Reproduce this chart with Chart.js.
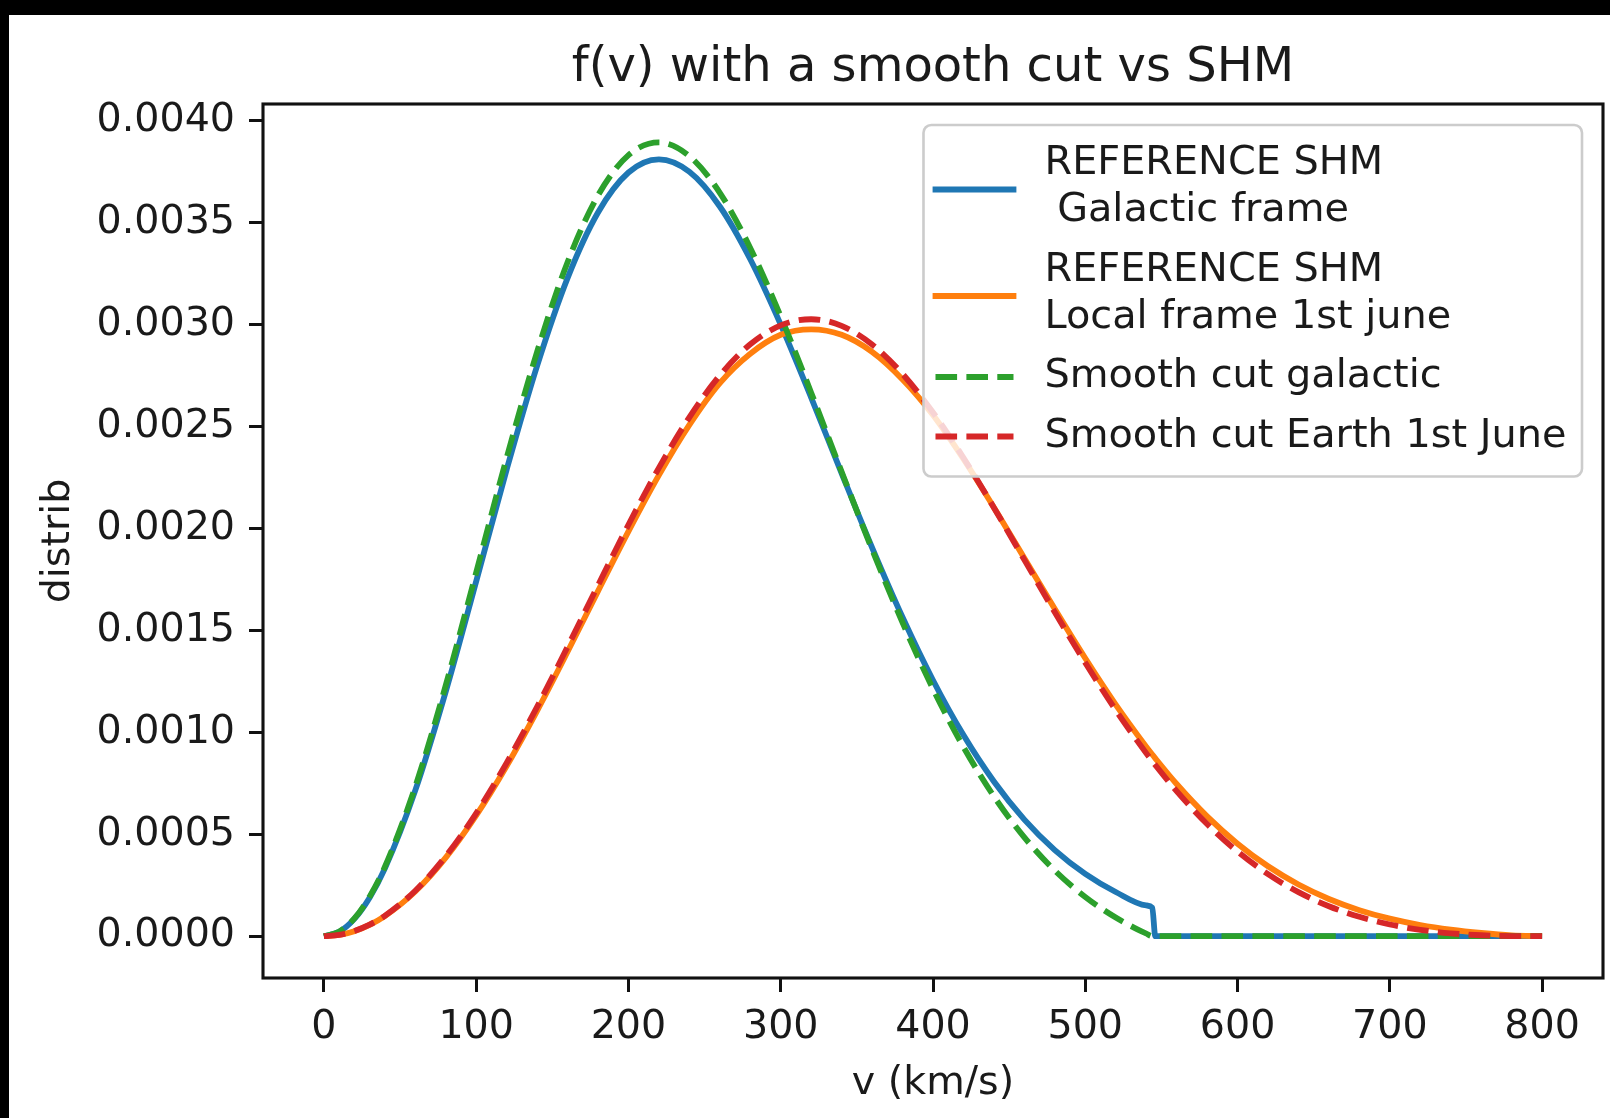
<!DOCTYPE html>
<html>
<head>
<meta charset="utf-8">
<script src="https://cdn.jsdelivr.net/npm/chart.js@4.4.1/dist/chart.umd.min.js"></script>
<style>
html,body{margin:0;padding:0;background:#000;width:1610px;height:1118px;overflow:hidden}
#wrap{position:absolute;left:9px;top:15px;width:1601px;height:1103px;background:#fff}
canvas{display:block}
</style>
</head>
<body>
<div id="wrap"><canvas id="c" width="1601" height="1103"></canvas></div>
<script>
// ---- data ----
const velocities = [0,10,20,30,40,60,80,100,120,140,160,180,200,220,240,260,280,300,320,340,360,380,400,420,440,460,480,500,520,540,544,546,560,580,600,620,640,660,680,700,720,740,760,780,800];

const shmGalactic = [0,0.0000214,0.0000849,0.0001890,0.0003313,0.0007151,0.0011999,0.0017405,0.0022885,0.0027977,0.0032281,0.0035498,0.0037458,0.0038103,0.0037495,0.0035792,0.0033206,0.0029999,0.0026418,0.0022704,0.0019064,0.0015645,0.0012556,0.0009864,0.0007588,0.0005717,0.0004224,0.0003056,0.0002168,0.0001509,0.0001400,0,0,0,0,0,0,0,0,0,0,0,0,0,0];

const shmLocalJune = [0,0.0000062,0.0000247,0.0000554,0.0000982,0.0002192,0.0003852,0.0005923,0.0008349,0.0011056,0.0013952,0.0016926,0.0019858,0.0022617,0.0025079,0.0027128,0.0028570,0.0029500,0.0029770,0.0029500,0.0028660,0.0027310,0.0025563,0.0023407,0.0021031,0.0018543,0.0016047,0.0013631,0.0011364,0.0009298,0.0008912,0.0008723,0.0007465,0.0005879,0.0004539,0.0003430,0.0002536,0.0001827,0.0001278,0.0000861,0.0000549,0.0000321,0.0000157,0.0000040,0];

const smoothCutGalactic = [0,0.0000219,0.0000871,0.0001939,0.0003398,0.0007334,0.0012304,0.0017844,0.0023457,0.0028664,0.0033060,0.0036336,0.0038313,0.0038935,0.0038265,0.0036465,0.0033756,0.0030401,0.0026660,0.0022778,0.0018968,0.0015382,0.0012129,0.0009282,0.0006859,0.0004848,0.0003221,0.0001926,0.0000914,0.0000133,0,0,0,0,0,0,0,0,0,0,0,0,0,0,0];

const smoothCutEarthJune = [0,0.0000063,0.0000251,0.0000564,0.0001000,0.0002232,0.0003921,0.0006029,0.0008497,0.0011249,0.0014191,0.0017210,0.0020181,0.0022972,0.0025453,0.0027506,0.0029032,0.0029961,0.0030263,0.0029940,0.0029025,0.0027579,0.0025690,0.0023466,0.0021017,0.0018458,0.0015894,0.0013415,0.0011093,0.0008982,0.0008589,0.0008396,0.0007115,0.0005505,0.0004153,0.0003044,0.0002159,0.0001471,0.0000953,0.0000576,0.0000314,0.0000143,0.0000046,0.0000004,0];

const seriesLabels = ["REFERENCE SHM\n Galactic frame","REFERENCE SHM\nLocal frame 1st june","Smooth cut galactic","Smooth cut Earth 1st June"];
const xTicks = [0,100,200,300,400,500,600,700,800];
const yTicks = [0,0.0005,0.0010,0.0015,0.0020,0.0025,0.0030,0.0035,0.0040];
const chartTitle = "f(v) with a smooth cut vs SHM";
const xLabel = "v (km/s)";
const yLabel = "distrib";

// ---- styling ----
const FONT = "'DejaVu Sans', 'Liberation Sans', sans-serif";
const TXT = '#1a1a1a';
Chart.defaults.font.family = FONT;
Chart.defaults.color = TXT;

const seriesStyles = [
  {color:'#1f77b4', dash:[]},
  {color:'#ff7f0e', dash:[]},
  {color:'#2ca02c', dash:[21.6, 9.3]},
  {color:'#d62728', dash:[21.6, 9.3]}
];
const seriesValues = [shmGalactic, shmLocalJune, smoothCutGalactic, smoothCutEarthJune];

const toPts = arr => velocities.map((v, i) => ({x: v, y: arr[i]}));

const datasets = seriesValues.map((arr, i) => ({
  label: seriesLabels[i],
  data: toPts(arr),
  borderColor: seriesStyles[i].color,
  borderDash: seriesStyles[i].dash,
  borderWidth: 5.8,
  borderJoinStyle: 'round',
  pointRadius: 0,
  pointHoverRadius: 0,
  fill: false,
  cubicInterpolationMode: 'monotone',
  order: seriesValues.length - 1 - i
}));

const framePlugin = {
  id: 'frame',
  afterDatasetsDraw(chart) {
    const {ctx, chartArea: a} = chart;
    ctx.save();
    ctx.strokeStyle = '#111';
    ctx.lineWidth = 3.1;
    ctx.strokeRect(a.left, a.top, a.right - a.left, a.bottom - a.top);
    ctx.restore();
  }
};

const legendPlugin = {
  id: 'mplLegend',
  afterDraw(chart) {
    const {ctx, chartArea: a} = chart;
    const fs = 39.8;
    const axPad = 21, borderPad = 15.6, handleLen = 78, handleStart = 12, textPad = 31;
    const lineH = 47, entryGap = 59.5, firstY = 39;
    ctx.save();
    ctx.font = fs + "px " + FONT;
    const dsList = chart.data.datasets;
    let maxW = 0;
    const entries = [];
    let y = firstY;
    dsList.forEach((ds) => {
      const lines = ds.label.split('\n');
      const ys = [];
      lines.forEach((ln, k) => {
        maxW = Math.max(maxW, ctx.measureText(ln).width);
        ys.push(y);
        if (k < lines.length - 1) y += lineH;
      });
      entries.push({ds, lines, ys});
      y += entryGap;
    });
    const lastY = y - entryGap;
    const w = handleStart + handleLen + textPad + maxW + borderPad;
    const h = lastY + 40;
    const x0 = a.right - axPad - w;
    const y0 = a.top + axPad;
    const r = 7.8;
    ctx.beginPath();
    ctx.moveTo(x0 + r, y0);
    ctx.lineTo(x0 + w - r, y0);
    ctx.arcTo(x0 + w, y0, x0 + w, y0 + r, r);
    ctx.lineTo(x0 + w, y0 + h - r);
    ctx.arcTo(x0 + w, y0 + h, x0 + w - r, y0 + h, r);
    ctx.lineTo(x0 + r, y0 + h);
    ctx.arcTo(x0, y0 + h, x0, y0 + h - r, r);
    ctx.lineTo(x0, y0 + r);
    ctx.arcTo(x0, y0, x0 + r, y0, r);
    ctx.closePath();
    ctx.fillStyle = 'rgba(255,255,255,0.8)';
    ctx.fill();
    ctx.strokeStyle = '#cccccc';
    ctx.lineWidth = 2.6;
    ctx.stroke();
    entries.forEach(e => {
      const hy = y0 + (e.ys[0] + e.ys[e.ys.length - 1]) / 2 + (e.ys.length > 1 ? 2 : 0);
      ctx.beginPath();
      ctx.setLineDash(e.ds.borderDash || []);
      ctx.lineCap = (e.ds.borderDash && e.ds.borderDash.length) ? 'butt' : 'square';
      ctx.strokeStyle = e.ds.borderColor;
      ctx.lineWidth = e.ds.borderWidth;
      ctx.moveTo(x0 + handleStart, hy);
      ctx.lineTo(x0 + handleStart + handleLen, hy);
      ctx.stroke();
      ctx.setLineDash([]);
      ctx.fillStyle = TXT;
      ctx.textAlign = 'left';
      ctx.textBaseline = 'middle';
      e.lines.forEach((ln, k) => {
        ctx.fillText(ln, x0 + handleStart + handleLen + textPad, y0 + e.ys[k]);
      });
    });
    ctx.restore();
  }
};

new Chart(document.getElementById('c'), {
  type: 'line',
  data: {datasets},
  options: {
    responsive: false,
    animation: false,
    devicePixelRatio: 1,
    events: [],
    layout: {padding: {left: 0, right: 7, top: 0, bottom: 0}},
    plugins: {
      legend: {display: false},
      tooltip: {enabled: false},
      title: {
        display: true,
        text: chartTitle,
        fullSize: false,
        color: TXT,
        font: {size: 48, weight: 'normal', lineHeight: 1.2},
        padding: {top: 25, bottom: 6.4}
      }
    },
    scales: {
      x: {
        type: 'linear',
        min: -40,
        max: 840,
        afterBuildTicks: ax => { ax.ticks = xTicks.map(v => ({value: v})); },
        afterFit: s => { s.height = 140; },
        border: {display: false},
        grid: {drawOnChartArea: false, drawTicks: true, tickLength: 14, tickWidth: 3, tickColor: '#111'},
        ticks: {padding: 12, color: TXT, font: {size: 39.6, lineHeight: 1.2}, maxRotation: 0, autoSkip: false, callback: v => String(v)},
        title: {display: true, text: xLabel, color: TXT, font: {size: 39.6, lineHeight: 1.2}, padding: {top: 11, bottom: 11}}
      },
      y: {
        type: 'linear',
        min: -0.000205,
        max: 0.004082,
        afterBuildTicks: ax => { ax.ticks = yTicks.map(v => ({value: v})); },
        afterFit: s => { s.width = 254; },
        border: {display: false},
        grid: {drawOnChartArea: false, drawTicks: true, tickLength: 14, tickWidth: 3, tickColor: '#111'},
        ticks: {padding: 14, color: TXT, font: {size: 39.6, lineHeight: 1.2}, autoSkip: false, callback: v => Number(v).toFixed(4)},
        title: {display: true, text: yLabel, color: TXT, font: {size: 39.6, lineHeight: 1.2}, padding: {top: 26, bottom: 26}}
      }
    }
  },
  plugins: [framePlugin, legendPlugin]
});
</script>
</body>
</html>
